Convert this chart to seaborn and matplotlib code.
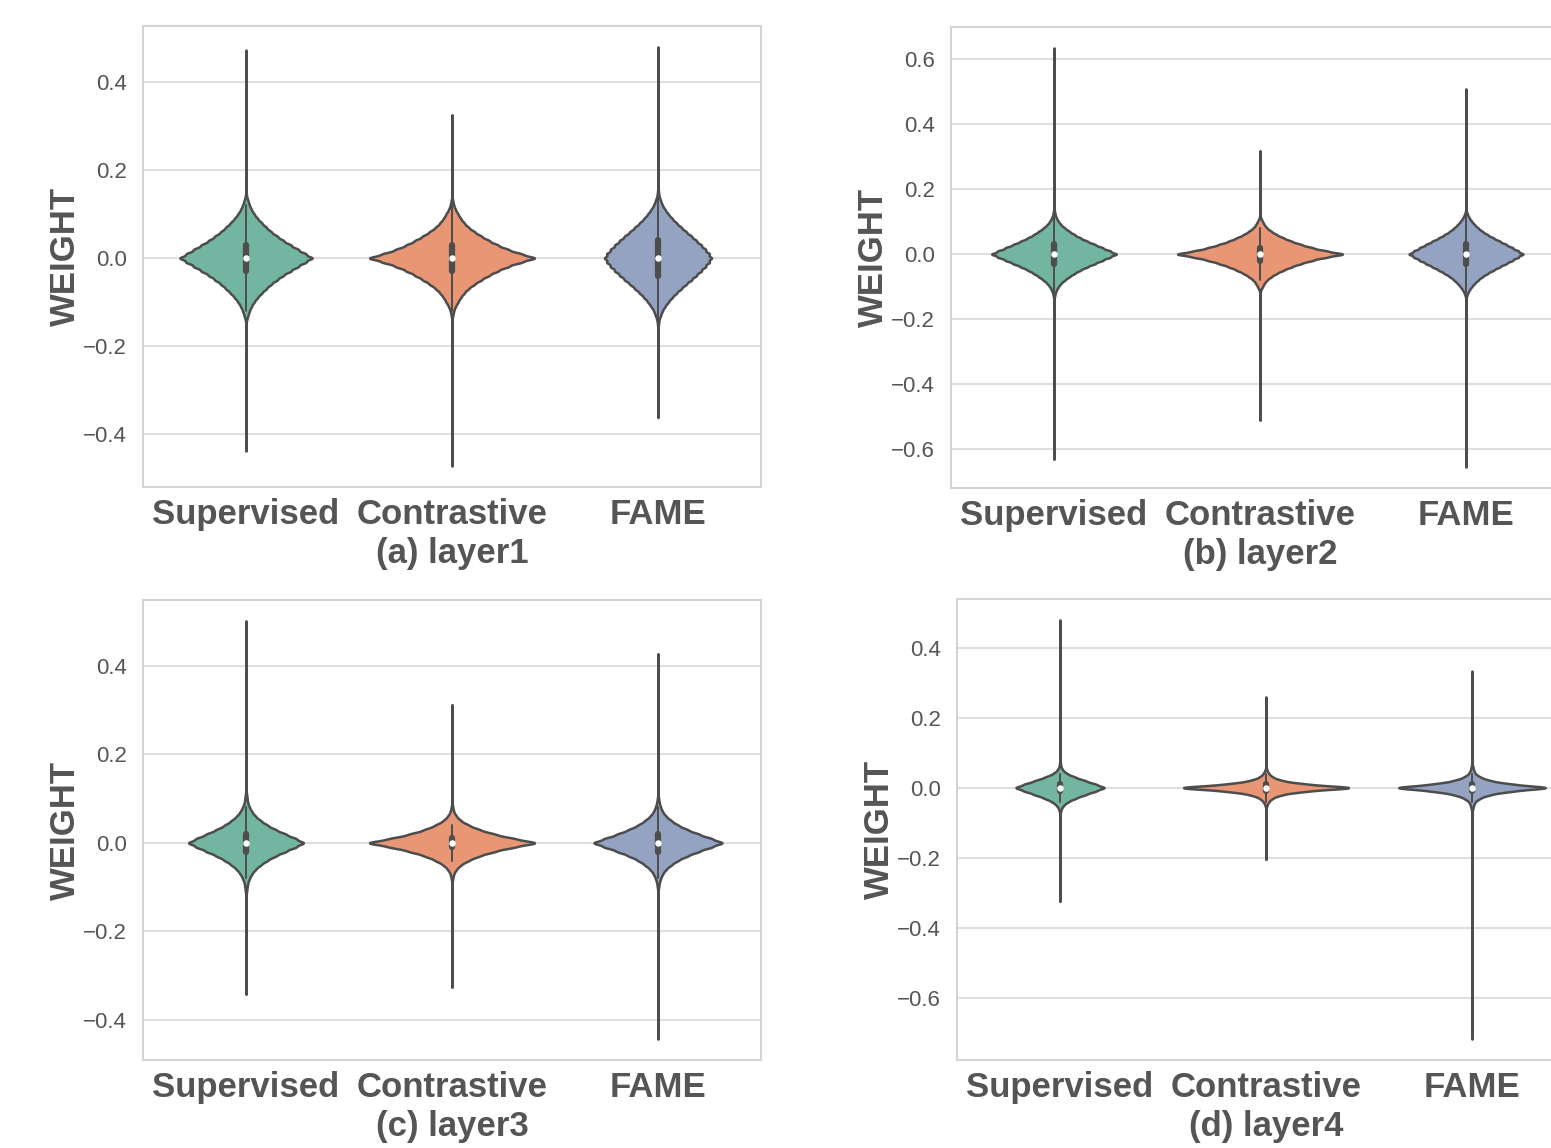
import seaborn as sns
import pandas as pd
import numpy as np
import matplotlib.pyplot as plt
from matplotlib.ticker import MultipleLocator

# categories / panels
methods = ["Supervised", "Contrastive", "FAME"]
layers = ["(a) layer1", "(b) layer2", "(c) layer3", "(d) layer4"]

# weight values (bin centres) and how many weights fall in each bin
weight_grid = [-0.15, -0.14, -0.13, -0.12, -0.11, -0.10, -0.09, -0.08, -0.07, -0.06, -0.05,
               -0.04, -0.03, -0.02, -0.01, 0.0, 0.01, 0.02, 0.03, 0.04, 0.05, 0.06,
               0.07, 0.08, 0.09, 0.10, 0.11, 0.12, 0.13, 0.14, 0.15]

# layer1
sup_l1 = [0, 1, 3, 5, 8, 12, 17, 23, 30, 37, 46, 55, 66, 77, 88, 100, 88, 77, 66, 55, 46, 37, 30, 23, 17, 12, 8, 5, 3, 1, 0]
con_l1 = [0, 0, 1, 2, 4, 7, 10, 14, 19, 26, 34, 43, 53, 65, 80, 100, 80, 65, 53, 43, 34, 26, 19, 14, 10, 7, 4, 2, 1, 0, 0]
fame_l1 = [1, 2, 5, 8, 13, 19, 26, 34, 43, 52, 62, 71, 80, 88, 95, 100, 95, 88, 80, 71, 62, 52, 43, 34, 26, 19, 13, 8, 5, 2, 1]
# layer2
sup_l2 = [0, 0, 1, 2, 4, 7, 11, 17, 24, 32, 41, 52, 64, 76, 88, 100, 88, 76, 64, 52, 41, 32, 24, 17, 11, 7, 4, 2, 1, 0, 0]
con_l2 = [0, 0, 0, 0, 1, 3, 5, 8, 13, 19, 27, 36, 47, 60, 76, 100, 76, 60, 47, 36, 27, 19, 13, 8, 5, 3, 1, 0, 0, 0, 0]
fame_l2 = [0, 0, 1, 3, 6, 10, 15, 21, 28, 37, 47, 58, 69, 80, 90, 100, 90, 80, 69, 58, 47, 37, 28, 21, 15, 10, 6, 3, 1, 0, 0]
# layer3
sup_l3 = [0, 0, 0, 0, 1, 2, 3, 6, 10, 16, 25, 36, 50, 67, 84, 100, 84, 67, 50, 36, 25, 16, 10, 6, 3, 2, 1, 0, 0, 0, 0]
con_l3 = [0, 0, 0, 0, 0, 0, 0, 1, 2, 5, 10, 19, 31, 48, 70, 100, 70, 48, 31, 19, 10, 5, 2, 1, 0, 0, 0, 0, 0, 0, 0]
fame_l3 = [0, 0, 0, 0, 0, 1, 2, 4, 7, 12, 20, 30, 44, 61, 80, 100, 80, 61, 44, 30, 20, 12, 7, 4, 2, 1, 0, 0, 0, 0, 0]
# layer4
sup_l4 = [0, 0, 0, 0, 0, 0, 0, 0, 1, 3, 8, 18, 35, 56, 78, 100, 78, 55, 33, 15, 6, 2, 1, 0, 0, 0, 0, 0, 0, 0, 0]
con_l4 = [0, 0, 0, 0, 0, 0, 0, 0, 0, 0, 1, 3, 7, 17, 42, 100, 42, 17, 7, 3, 1, 0, 0, 0, 0, 0, 0, 0, 0, 0, 0]
fame_l4 = [0, 0, 0, 0, 0, 0, 0, 0, 0, 1, 2, 4, 10, 22, 48, 100, 48, 22, 10, 4, 2, 1, 0, 0, 0, 0, 0, 0, 0, 0, 0]

# extreme weights (min, max) of each distribution
sup_ext = [(-0.438, 0.472), (-0.631, 0.634), (-0.342, 0.501), (-0.325, 0.479)]
con_ext = [(-0.472, 0.325), (-0.511, 0.318), (-0.326, 0.312), (-0.205, 0.259)]
fame_ext = [(-0.362, 0.479), (-0.655, 0.508), (-0.443, 0.427), (-0.718, 0.333)]

counts = {
    "Supervised": [sup_l1, sup_l2, sup_l3, sup_l4],
    "Contrastive": [con_l1, con_l2, con_l3, con_l4],
    "FAME": [fame_l1, fame_l2, fame_l3, fame_l4],
}
extremes = {"Supervised": sup_ext, "Contrastive": con_ext, "FAME": fame_ext}

rows = []
for li, layer in enumerate(layers):
    for m in methods:
        # counts are relative to the peak bin (=100) -> x10 so the lone extremes carry almost no mass
        vals = list(np.repeat(weight_grid, np.array(counts[m][li]) * 10)) + list(extremes[m][li])
        rows += [(layer, m, v) for v in vals]
df = pd.DataFrame(rows, columns=["layer", "method", "weight"])


def fixed_bw(kde):
    # same absolute kernel width for every violin
    return 0.005 / np.std(kde.dataset, ddof=1)


sns.set_theme(style="whitegrid")
plt.rcParams["font.family"] = ["Liberation Sans", "DejaVu Sans"]
txt = "#555555"
plt.rcParams.update({
    "text.color": txt, "axes.labelcolor": txt,
    "xtick.color": txt, "ytick.color": txt,
    "axes.edgecolor": "#d4d4d4", "axes.linewidth": 1.5,
    "grid.color": "#dedede", "grid.linewidth": 1.5,
})

W, H = 1551, 1148
fig = plt.figure(figsize=(W / 100, H / 100), dpi=100)
# left, top, right, bottom in pixels
boxes = [(143, 26, 761, 487), (951, 27, 1569, 488), (143, 600, 761, 1060), (957, 599, 1575, 1060)]

for li, layer in enumerate(layers):
    l, t, r, b = boxes[li]
    ax = fig.add_axes([l / W, (H - b) / H, (r - l) / W, (b - t) / H])
    sub = df[df["layer"] == layer]
    sns.violinplot(data=sub, x="method", y="weight", hue="method", order=methods, hue_order=methods,
                   palette="Set2", legend=False, ax=ax, bw_method=fixed_bw, cut=0, gridsize=2000,
                   common_norm=True, density_norm="area",
                   linewidth=1.8, linecolor="#4d4d4d", inner="box",
                   inner_kws=dict(box_width=4.5, whis_width=1.4, marker="o"))
    ax.yaxis.set_major_locator(MultipleLocator(0.2))
    ax.tick_params(axis="y", labelsize=16, pad=11.5, length=0)
    ax.tick_params(axis="x", labelsize=25, pad=8, length=0)
    for lab in ax.get_xticklabels():
        lab.set_fontweight("bold")
    ax.set_xlabel(layer, fontsize=25, fontweight="bold", labelpad=4)
    ax.set_ylabel("WEIGHT", fontsize=25, fontweight="bold", labelpad=1)
    for sp in ax.spines.values():
        sp.set_visible(True)

fig.savefig("out.png", dpi=100)
